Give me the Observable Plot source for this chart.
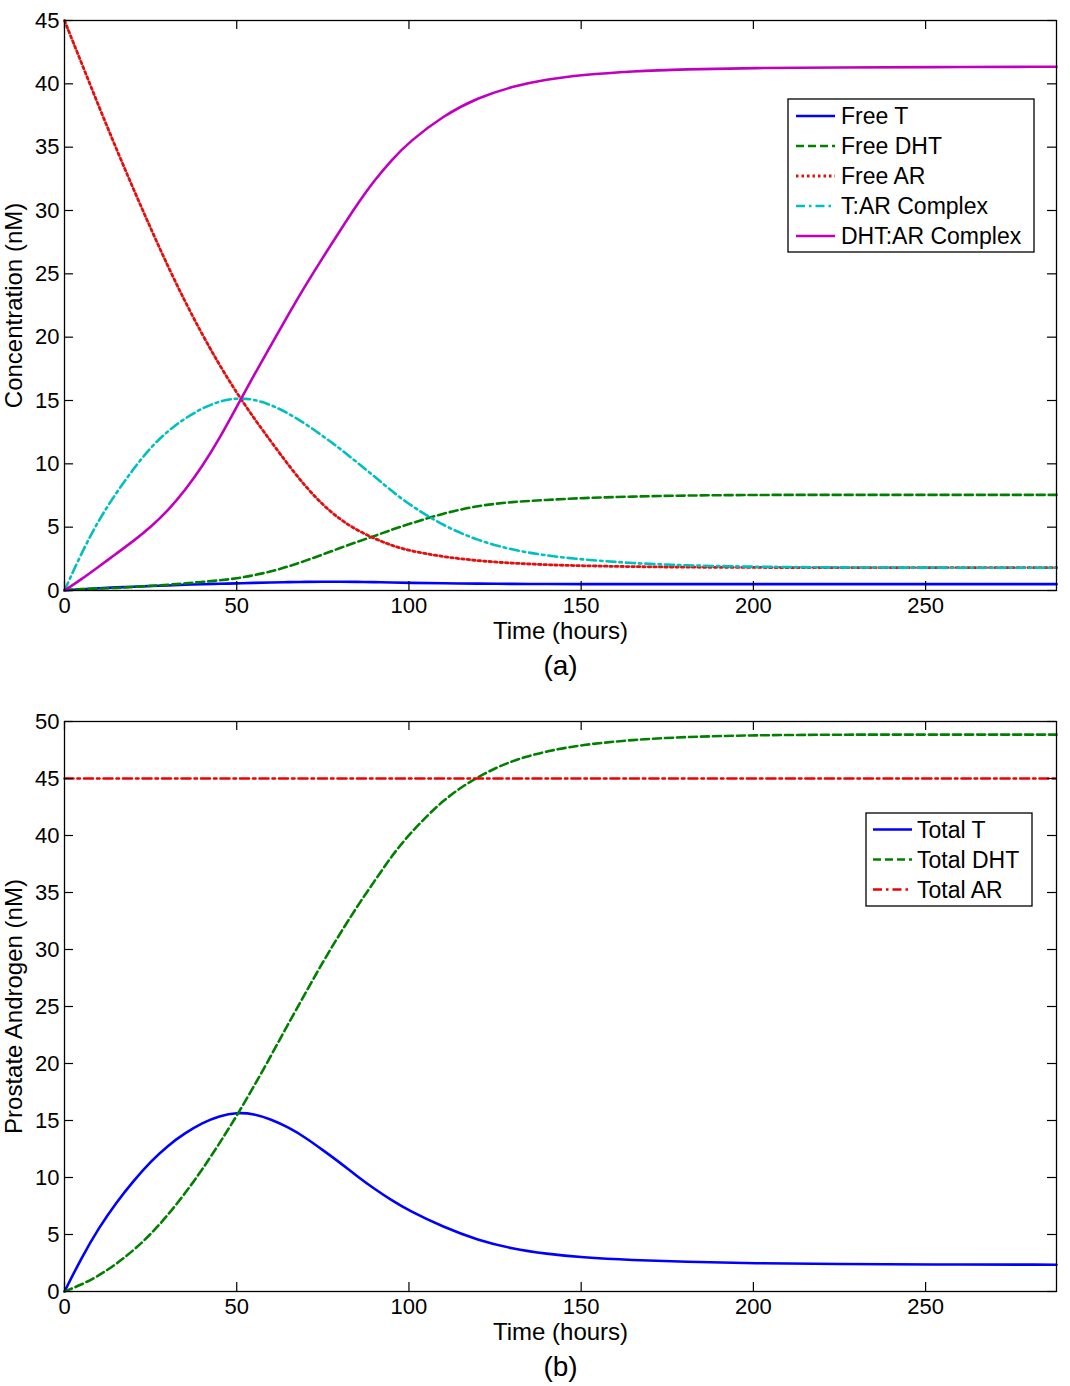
<!DOCTYPE html>
<html>
<head>
<meta charset="utf-8">
<script src="https://cdn.jsdelivr.net/npm/d3@7"></script>
<script src="https://cdn.jsdelivr.net/npm/@observablehq/plot@0.6"></script>
<style>
  html, body { margin: 0; padding: 0; background: #fff; }
  #wrap { width: 1070px; height: 1386px; position: relative; background: #fff; }
  #wrap svg { display: block; }
</style>
</head>
<body>
<div id="wrap"></div>
<script>
// ---------- data ----------
const timeHours = [0,5,10,15,20,25,30,35,40,45,50,55,60,65,70,75,80,85,90,95,100,110,120,130,140,150,165,180,200,225,250,288];

// Panel (a)
const freeT   = [0,0.1,0.18,0.25,0.3,0.35,0.4,0.45,0.5,0.53,0.56,0.6,0.63,0.66,0.68,0.69,0.69,0.68,0.66,0.63,0.6,0.57,0.54,0.52,0.51,0.5,0.5,0.5,0.5,0.5,0.5,0.5];
const freeDHT = [0.05,0.12,0.15,0.2,0.28,0.36,0.45,0.56,0.68,0.8,0.95,1.2,1.5,1.9,2.35,2.85,3.35,3.85,4.3,4.8,5.25,6.1,6.7,7.0,7.15,7.3,7.42,7.5,7.55,7.55,7.55,7.55];
const freeAR  = [45,41.6,38.2,34.9,31.7,28.6,25.6,22.8,20.2,17.8,15.6,13.6,11.75,9.9,8.2,6.75,5.6,4.75,4.1,3.55,3.15,2.65,2.35,2.15,2.03,1.95,1.88,1.84,1.82,1.8,1.8,1.8];
const tARComplex   = [0,3.0,5.6,7.7,9.6,11.3,12.6,13.6,14.4,14.95,15.2,15.1,14.65,14.0,13.15,12.2,11.2,10.1,9.0,7.85,6.8,5.1,3.95,3.2,2.75,2.45,2.15,1.98,1.87,1.82,1.8,1.8];
const dhtARComplex = [0,0.9,1.9,2.9,3.9,5.0,6.3,7.9,9.8,12.0,14.5,17.0,19.4,21.8,24.1,26.3,28.4,30.5,32.4,34.0,35.4,37.5,38.9,39.8,40.35,40.7,41.0,41.15,41.25,41.3,41.32,41.35];

// Panel (b)
const totalT   = [0,3.0,5.6,7.8,9.7,11.4,12.8,13.9,14.8,15.4,15.7,15.6,15.1,14.4,13.5,12.4,11.3,10.1,9.0,8.0,7.1,5.65,4.5,3.75,3.3,3.0,2.75,2.6,2.47,2.4,2.37,2.35];
const totalDHT = [0,0.6,1.4,2.4,3.6,5.0,6.7,8.6,10.7,13.0,15.4,18.0,20.7,23.5,26.2,28.9,31.4,33.8,36.0,38.2,40.1,43.2,45.2,46.6,47.4,47.95,48.4,48.65,48.8,48.85,48.85,48.85];
const totalAR  = [45,45,45,45,45,45,45,45,45,45,45,45,45,45,45,45,45,45,45,45,45,45,45,45,45,45,45,45,45,45,45,45];

// Axis ticks
const xTicks  = [0,50,100,150,200,250];
const yTicksA = [0,5,10,15,20,25,30,35,40,45];
const yTicksB = [0,5,10,15,20,25,30,35,40,45,50];

// Series names
const seriesA = ["Free T","Free DHT","Free AR","T:AR Complex","DHT:AR Complex"];
const seriesB = ["Total T","Total DHT","Total AR"];

// ---------- styles ----------
const FONT = "'Liberation Sans', Arial, Helvetica, sans-serif";
const styleOf = {
  "Free T":         {stroke: "#0000ff", dash: null, w: 2.6},
  "Free DHT":       {stroke: "#008000", dash: "8,4", w: 2.6},
  "Free AR":        {stroke: "#e01010", dash: "2.5,3", w: 2.8},
  "T:AR Complex":   {stroke: "#00bfbf", dash: "9,4,2.5,4", w: 2.6},
  "DHT:AR Complex": {stroke: "#bf00bf", dash: null, w: 2.6},
  "Total T":        {stroke: "#0000ff", dash: null, w: 2.6},
  "Total DHT":      {stroke: "#008000", dash: "8,4", w: 2.6},
  "Total AR":       {stroke: "#ee0000", dash: "9,4,2.5,4", w: 2.6}
};

function toRows(name, values) {
  return timeHours.map((t, i) => ({series: name, t, v: values[i]}));
}

const rowsA = [
  ...toRows("Free T", freeT),
  ...toRows("Free DHT", freeDHT),
  ...toRows("Free AR", freeAR),
  ...toRows("T:AR Complex", tARComplex),
  ...toRows("DHT:AR Complex", dhtARComplex)
];
const rowsB = [
  ...toRows("Total T", totalT),
  ...toRows("Total DHT", totalDHT),
  ...toRows("Total AR", totalAR)
];

function panel({rows, names, yDomain, yTicks, yLabel, tag, height, marginTop, marginBottom}) {
  const W = 1070, mL = 64, mR = 14;
  const fw = W - mL - mR;
  const fh = height - marginTop - marginBottom;
  const tick = 9;
  const lineMarks = names.map(n => Plot.line(rows.filter(r => r.series === n), {
    x: "t", y: "v",
    stroke: styleOf[n].stroke,
    strokeWidth: styleOf[n].w,
    strokeDasharray: styleOf[n].dash || undefined,
    curve: "basis"
  }));
  return Plot.plot({
    width: W, height,
    marginLeft: mL, marginRight: mR, marginTop, marginBottom,
    style: {fontFamily: FONT, fontSize: "22px", background: "#fff", color: "#000", overflow: "visible"},
    x: {domain: [0, 288]},
    y: {domain: yDomain},
    marks: [
      ...lineMarks,
      Plot.frame({stroke: "#000", strokeWidth: 1.3}),
      // inward tick marks on all four sides
      Plot.ruleX(xTicks, {x: d => d, insetTop: fh - tick, stroke: "#000", strokeWidth: 1.2}),
      Plot.ruleX(xTicks, {x: d => d, insetBottom: fh - tick, stroke: "#000", strokeWidth: 1.2}),
      Plot.ruleY(yTicks, {y: d => d, insetRight: fw - tick, stroke: "#000", strokeWidth: 1.2}),
      Plot.ruleY(yTicks, {y: d => d, insetLeft: fw - tick, stroke: "#000", strokeWidth: 1.2}),
      Plot.axisX({ticks: xTicks, tickSize: 0, tickPadding: 7, fontSize: 22, label: null, tickFormat: d => String(d)}),
      Plot.axisY({ticks: yTicks, tickSize: 0, tickPadding: 5, fontSize: 22, label: null, tickFormat: d => String(d)}),
      Plot.text(["Time (hours)"], {text: d => d, frameAnchor: "bottom", lineAnchor: "middle", textAnchor: "middle", dy: 41, fontSize: 24, fill: "#000"}),
      Plot.text([tag], {text: d => d, frameAnchor: "bottom", lineAnchor: "middle", textAnchor: "middle", dy: 76, fontSize: 28, fill: "#000"}),
      Plot.text([yLabel], {text: d => d, frameAnchor: "left", lineAnchor: "middle", textAnchor: "middle", rotate: -90, dx: -50, fontSize: 24, fill: "#000"})
    ]
  });
}

function addLegend(svg, names, box, rowStart, lineX0, lineX1, textX) {
  const g = d3.select(svg).append("g").attr("text-anchor", "start");
  g.append("rect").attr("x", box.x).attr("y", box.y).attr("width", box.w).attr("height", box.h)
    .attr("fill", "#fff").attr("stroke", "#000").attr("stroke-width", 1.3);
  names.forEach((n, i) => {
    const y = rowStart + i * 30;
    const ln = g.append("line").attr("x1", lineX0).attr("x2", lineX1).attr("y1", y).attr("y2", y)
      .attr("stroke", styleOf[n].stroke).attr("stroke-width", styleOf[n].w);
    if (styleOf[n].dash) ln.attr("stroke-dasharray", styleOf[n].dash);
    g.append("text").attr("x", textX).attr("y", y).attr("dy", "0.36em")
      .attr("text-anchor", "start")
      .attr("font-family", FONT).attr("font-size", 23).attr("fill", "#000").text(n);
  });
}

const wrap = document.getElementById("wrap");

const svgA = panel({rows: rowsA, names: seriesA, yDomain: [0, 45], yTicks: yTicksA,
  yLabel: "Concentration (nM)", tag: "(a)", height: 700, marginTop: 20, marginBottom: 110});
addLegend(svgA, seriesA, {x: 788, y: 99, w: 246, h: 153}, 116, 796, 835, 841);
wrap.appendChild(svgA);

const svgB = panel({rows: rowsB, names: seriesB, yDomain: [0, 50], yTicks: yTicksB,
  yLabel: "Prostate Androgen (nM)", tag: "(b)", height: 686, marginTop: 21, marginBottom: 95});
addLegend(svgB, seriesB, {x: 866, y: 113, w: 166, h: 93}, 129.5, 873, 912, 917);
wrap.appendChild(svgB);
</script>
</body>
</html>
